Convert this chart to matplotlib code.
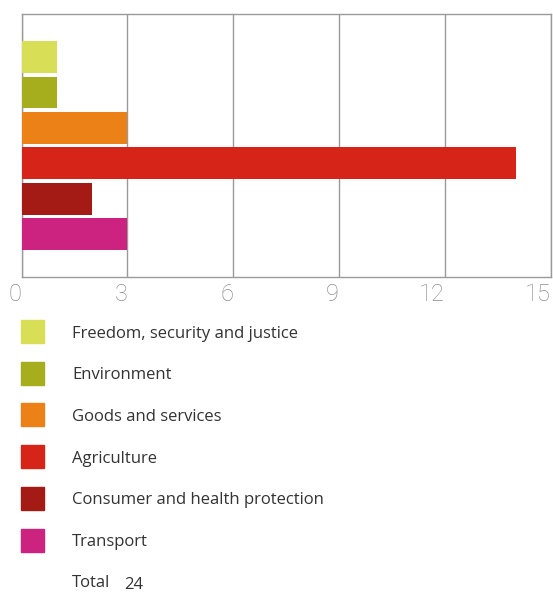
import matplotlib
matplotlib.use("Agg")
import matplotlib.pyplot as plt
from matplotlib.patches import Rectangle

categories = ["Freedom, security and justice", "Environment", "Goods and services",
              "Agriculture", "Consumer and health protection", "Transport"]
values = [1, 1, 3, 14, 2, 3]
colors = ["#d8df57", "#a6ae1d", "#ec8217", "#d62418", "#a41a15", "#cc2280"]
ticks = [0, 3, 6, 9, 12, 15]
total = 24

W, H = 553, 594
fig = plt.figure(figsize=(W / 100, H / 100), dpi=100)

# bar chart area (pixel box from the reference)
left, right, top, bottom = 21.5, 551, 13.5, 277
ax = fig.add_axes([left / W, 1 - bottom / H, (right - left) / W, (bottom - top) / H])
ypos = list(range(len(values)))
ax.barh(ypos, values, height=0.9, color=colors, zorder=3)
ax.set_xlim(0, 15)
ax.set_ylim(len(values) - 1 + 1.21, -1.23)
ax.set_yticks([])
ax.set_xticks(ticks)
ax.grid(axis="x", color="#9a9a9a", linewidth=1.0, zorder=1)
for s in ax.spines.values():
    s.set_color("#9a9a9a")
    s.set_linewidth(1.0)
ax.tick_params(axis="x", length=0, pad=4, labelsize=17, labelcolor="#8c8c8c")
# tick labels sit just left of their gridline
for lab in ax.get_xticklabels():
    lab.set_family(["Liberation Sans Narrow", "Roboto", "DejaVu Sans"])
    lab.set_fontweight("light")
    lab.set_horizontalalignment("right")

# legend block, drawn in pixel coordinates over the whole figure
lax = fig.add_axes([0, 0, 1, 1])
lax.set_xlim(0, W)
lax.set_ylim(H, 0)
lax.axis("off")
font = dict(fontsize=12, color="#333333", family=["Open Sans", "DejaVu Sans"])
y0, step, sq = 331.5, 41.7, 23
for i, (name, c) in enumerate(zip(categories, colors)):
    yc = y0 + i * step
    lax.add_patch(Rectangle((21, yc - sq / 2), sq, sq, color=c))
    lax.text(72, yc + 2, name, va="center", ha="left", **font)
yc = y0 + len(categories) * step
lax.text(72, yc + 1, "Total", va="center", ha="left", **font)
lax.text(124, yc + 3, str(total), va="center", ha="left", **font)

fig.savefig("out.png", dpi=100)
